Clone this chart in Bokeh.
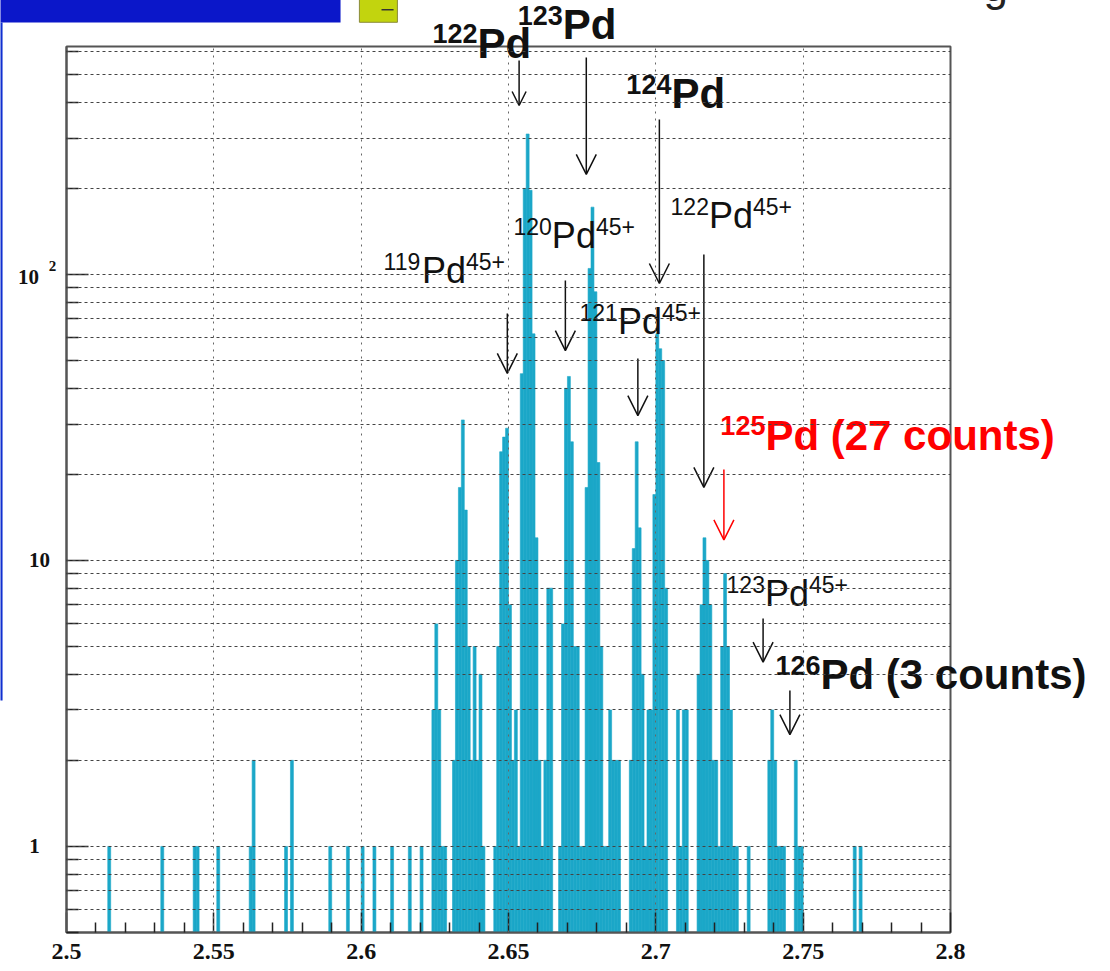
from bokeh.plotting import figure
from bokeh.models import (ColumnDataSource, FixedTicker, CustomJSTickFormatter,
                          Arrow, OpenHead)
from bokeh.core.properties import value
from bokeh.embed import file_html
from bokeh.resources import INLINE

# ---------------------------------------------------------------- data ----
BIN_WIDTH = 0.001          # histogram bin width (A/Q units)

# isolated single hits outside the main cluster: bin lower edge, counts
tail_low_x = [2.514, 2.532, 2.543, 2.544, 2.551, 2.562, 2.563, 2.574, 2.576,
              2.589, 2.595, 2.600, 2.604, 2.610, 2.616, 2.620]
tail_low_n = [1, 1, 1, 1, 1, 1, 2, 1, 2, 1, 1, 1, 1, 1, 1, 1]
tail_high_x = [2.767, 2.769]
tail_high_n = [1, 1]

# contiguous runs of bins: first bin lower edge, then counts per bin
run_a_start = 2.624
run_a_n = [3, 6, 3, 1, 1, 0, 0, 2, 10, 18, 31, 15, 5, 2, 5, 2, 4, 1]
run_b_start = 2.645
run_b_n = [1, 5, 24, 27, 29, 7, 2, 3, 1, 45, 200, 310, 197, 62, 12, 2, 1, 2, 8, 8]
run_c_start = 2.667
run_c_n = [1, 6, 40, 44, 26, 5, 5, 1, 1, 18, 105, 172, 87, 22, 5, 1, 1, 3, 2, 2, 2]
run_d_start = 2.691
run_d_n = [2, 11, 26, 13, 4, 1, 3, 3, 17, 62, 55, 50, 8]
run_e_start = 2.707
run_e_n = [3, 1, 3, 3, 0, 0, 0, 4, 7, 12, 10, 7, 2, 2, 1, 5, 9, 5, 3, 1, 1]
run_f_start = 2.731
run_f_n = [1, 0, 0, 0, 0, 0, 0, 2, 3, 2, 1, 1, 1, 0, 0, 0, 2, 1, 1]

# axis ticks
x_major = [2.5, 2.55, 2.6, 2.65, 2.7, 2.75, 2.8]
x_minor = [2.51, 2.52, 2.53, 2.54, 2.56, 2.57, 2.58, 2.59, 2.61, 2.62, 2.63, 2.64,
           2.66, 2.67, 2.68, 2.69, 2.71, 2.72, 2.73, 2.74, 2.76, 2.77, 2.78, 2.79]
y_major = [1, 10, 100]
y_minor = [0.5, 0.6, 0.7, 0.8, 0.9, 2, 3, 4, 5, 6, 7, 8, 9,
           20, 30, 40, 50, 60, 70, 80, 90, 200, 300, 400, 500, 600]

# ------------------------------------------------------------- build bins --
lo, hi, top = [], [], []
def add_bins(edges, counts):
    for e, n in zip(edges, counts):
        if n > 0:
            lo.append(e)
            hi.append(round(e + BIN_WIDTH, 4))
            top.append(n)

def add_run(start, counts):
    add_bins([round(start + i * BIN_WIDTH, 4) for i in range(len(counts))], counts)

add_bins(tail_low_x, tail_low_n)
for s, c in [(run_a_start, run_a_n), (run_b_start, run_b_n), (run_c_start, run_c_n),
             (run_d_start, run_d_n), (run_e_start, run_e_n), (run_f_start, run_f_n)]:
    add_run(s, c)
add_bins(tail_high_x, tail_high_n)

src = ColumnDataSource(dict(left=lo, right=hi, top=top, bottom=[0.1] * len(top)))

# ----------------------------------------------------------------- figure --
p = figure(width=1110, height=971, x_range=(2.5, 2.8), y_range=(0.5, 627),
           y_axis_type="log", output_backend="svg", toolbar_location=None,
           title=None, min_border_left=66, min_border_right=160,
           min_border_top=46, min_border_bottom=39)
p.background_fill_color = "white"
p.border_fill_color = "white"
p.outline_line_color = "#555555"
p.outline_line_width = 2

BAR = "#1ba7c8"
p.quad(left="left", right="right", bottom="bottom", top="top", source=src,
       fill_color=BAR, line_color=BAR, line_width=0.6)

# axes
p.xaxis.ticker = FixedTicker(ticks=x_major, minor_ticks=x_minor)
p.xaxis.formatter = CustomJSTickFormatter(code="return tick.toFixed(2).replace(/0$/, '');")
p.yaxis.ticker = FixedTicker(ticks=y_major, minor_ticks=y_minor)
p.yaxis.formatter = CustomJSTickFormatter(code="return '';")
for ax in (p.xaxis[0], p.yaxis[0]):
    ax.axis_line_color = "#555555"
    ax.axis_line_width = 2
    ax.major_tick_out = 0
    ax.minor_tick_out = 0
    ax.major_tick_line_color = "#222222"
    ax.minor_tick_line_color = "#222222"
    ax.major_tick_line_width = 1.5
    ax.minor_tick_line_width = 1.5
p.xaxis.major_tick_in = 20
p.xaxis.minor_tick_in = 10
p.yaxis.major_tick_in = 22
p.yaxis.minor_tick_in = 12
p.xaxis.major_label_text_font = "Liberation Serif"
p.xaxis.major_label_text_font_style = "bold"
p.xaxis.major_label_text_font_size = "24px"
p.xaxis.major_label_text_color = "#111111"
p.xaxis.major_label_standoff = 11

# dotted grid, drawn over the bars
p.xgrid.grid_line_color = "#666666"
p.xgrid.grid_line_dash = "2 5"
p.xgrid.grid_line_width = 1
p.ygrid.grid_line_color = "#444444"
p.ygrid.grid_line_dash = "3 3"
p.ygrid.minor_grid_line_color = "#444444"
p.ygrid.minor_grid_line_dash = "3 3"
p.xgrid.level = "overlay"
p.ygrid.level = "overlay"

# ------------------------------------------------------------ text helper --
def txt(x, y, s, size, font="Liberation Sans", style="normal", color="#111111",
        dx=0.0, dy=0.0, align="left", baseline="alphabetic"):
    if baseline == "alphabetic":
        # lift so that the glyph baseline sits on the anchor point
        dy -= 0.30 * size + 1
    p.text(x=[x], y=[y], text=[s], x_offset=dx, y_offset=dy,
           text_font=value(font), text_font_style=style,
           text_font_size=value(f"{size}px"), text_color=color,
           text_align=align, text_baseline=baseline, level="overlay")

# y tick labels in ROOT style
ylab = dict(font="Liberation Serif", style="bold", align="center", baseline="middle")
txt(2.5, 1, "1", 21, dx=-32, **ylab)
txt(2.5, 10, "10", 21, dx=-27, **ylab)
txt(2.5, 100, "10", 21, dx=-38, dy=3, **ylab)
txt(2.5, 100, "2", 15, dx=-14, dy=-8, **ylab)

# ------------------------------------------------------------ annotations --
W_REG = {"0": 556, "1": 556, "2": 556, "3": 556, "4": 556, "5": 556, "6": 556,
         "7": 556, "8": 556, "9": 556, "P": 667, "d": 556, "+": 584, " ": 278,
         "(": 333, ")": 333, "c": 500, "o": 556, "u": 556, "n": 556, "t": 278, "s": 500}
W_BOLD = dict(W_REG, d=611, c=556, o=611, u=611, n=611, t=333, s=556)

def text_w(s, size, bold):
    table = W_BOLD if bold else W_REG
    return sum(table[ch] for ch in s) * size / 1000.0

def isotope(x, y, mass, rest, charge="", bold=False, color="#111111",
            main=36, sup=23, lift=13):
    style = "bold" if bold else "normal"
    off = 0.0
    txt(x, y, mass, sup, style=style, color=color, dx=off, dy=-lift)
    off += text_w(mass, sup, bold)
    txt(x, y, rest, main, style=style, color=color, dx=off)
    off += text_w(rest, main, bold)
    if charge:
        txt(x, y, charge, sup, style=style, color=color, dx=off, dy=-lift)

# fully stripped ions (bold)
isotope(2.6242, 578, "122", "Pd", bold=True, main=42, sup=27, lift=14)
isotope(2.6531, 669, "123", "Pd", bold=True, main=42, sup=27, lift=14)
isotope(2.6900, 384, "124", "Pd", bold=True, main=42, sup=27, lift=14)
isotope(2.7219, 24.6, "125", "Pd (27 counts)", bold=True, color="#ff0000",
        main=42, sup=27, lift=14)
isotope(2.7406, 3.57, "126", "Pd (3 counts)", bold=True, main=42, sup=27, lift=14)
# hydrogen-like charge states
isotope(2.6076, 93.8, "119", "Pd", "45+")
isotope(2.6517, 124.3, "120", "Pd", "45+")
isotope(2.6741, 62.2, "121", "Pd", "45+")
isotope(2.7050, 146.0, "122", "Pd", "45+")
isotope(2.7240, 6.96, "123", "Pd", "45+")

def arrow(x, y0, y1, color="#111111", size=20):
    p.add_layout(Arrow(x_start=x, y_start=y0, x_end=x, y_end=y1,
                       line_color=color, line_width=1.5,
                       end=OpenHead(size=size, line_color=color, line_width=1.5)))

arrow(2.6536, 560, 390, size=14)
arrow(2.6764, 574, 224)
arrow(2.7012, 348, 93)
arrow(2.6496, 73.0, 45.1)
arrow(2.6693, 95.3, 54.2)
arrow(2.6939, 50.8, 32.1)
arrow(2.7163, 117.5, 18.0)
arrow(2.7231, 20.8, 11.8, color="#ff0000")
arrow(2.7364, 6.27, 4.41)
arrow(2.7455, 3.51, 2.46)

# neighbouring panel fragments along the page edge
def patch_box(l, r, b, t, color, line=None):
    p.quad(left=[l], right=[r], bottom=[b], top=[t], fill_color=color,
           line_color=line, level="overlay")

patch_box(2.4776, 2.5930, 760, 1000, "#0b17c9")
patch_box(2.4776, 2.4783, 3.24, 760, "#1030d0")
patch_box(2.5994, 2.6123, 762, 1000, "#c2d40e", line="#8a8a3a")
patch_box(2.6069, 2.6110, 838, 848, "#333333")
txt(2.8112, 915, "g", 44, color="#222222")

open("out.html", "w").write(file_html(p, INLINE))
